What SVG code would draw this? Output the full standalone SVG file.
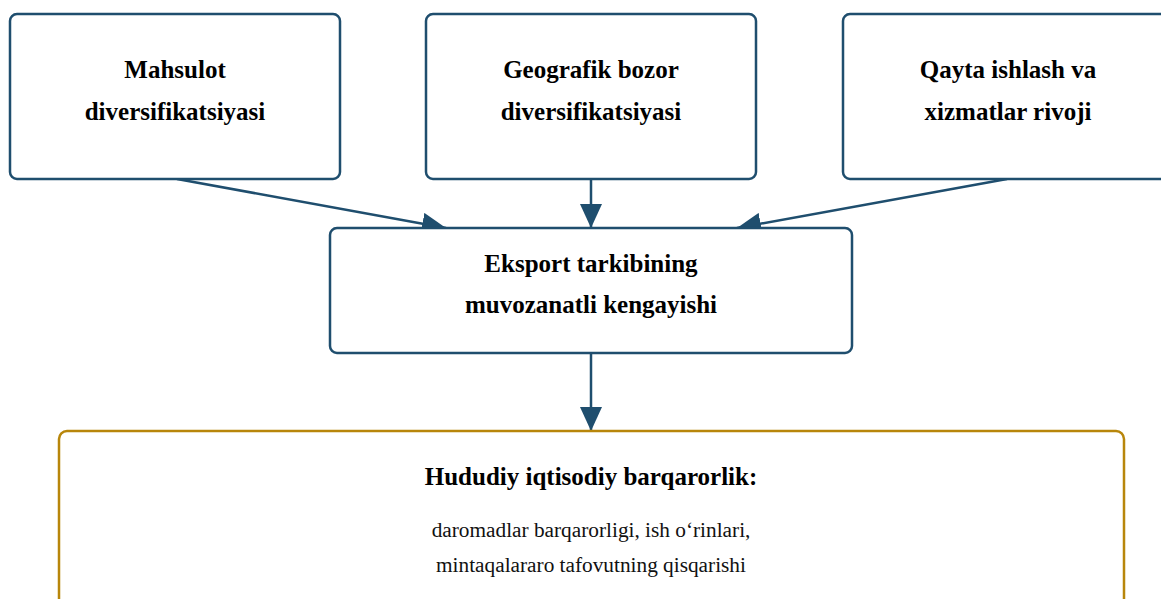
<svg xmlns="http://www.w3.org/2000/svg" width="1161" height="599" viewBox="0 0 1161 599">
<style>
.box{fill:#fff;stroke:#1f4e6e;stroke-width:2.5}
.gold{fill:#fff;stroke:#b8860b;stroke-width:2.5}
.t{font-family:"Liberation Serif","Times New Roman",serif;font-weight:bold;font-size:25px;fill:#000;text-anchor:middle}
.n{font-family:"Liberation Serif","Times New Roman",serif;font-size:21.3px;fill:#111;text-anchor:middle}
.c{stroke:#1f4e6e;stroke-width:2.5;fill:none}
</style>
<defs>
<marker id="ah" viewBox="0 0 24 22" refX="24" refY="11" markerWidth="24" markerHeight="22" markerUnits="userSpaceOnUse" orient="auto">
<path d="M0,0 L24,11 L0,22 Z" fill="#1f4e6e"/>
</marker>
</defs>
<rect width="1161" height="599" fill="#fff"/>
<g id="connectors">
<line class="c" x1="177" y1="179" x2="446" y2="228" marker-end="url(#ah)"/>
<line class="c" x1="591" y1="179" x2="591" y2="228" marker-end="url(#ah)"/>
<line class="c" x1="1007" y1="179" x2="737" y2="228" marker-end="url(#ah)"/>
<line class="c" x1="591" y1="353" x2="591" y2="431" marker-end="url(#ah)"/>
</g>
<g id="n1">
<rect class="box" x="10" y="14" width="330" height="165" rx="7"/>
<text class="t" x="175" y="78">Mahsulot</text>
<text class="t" x="175" y="120">diversifikatsiyasi</text>
</g>
<g id="n2">
<rect class="box" x="426" y="14" width="330" height="165" rx="7"/>
<text class="t" x="591" y="78">Geografik bozor</text>
<text class="t" x="591" y="120">diversifikatsiyasi</text>
</g>
<g id="n3">
<rect class="box" x="843" y="14" width="330" height="165" rx="7"/>
<text class="t" x="1008" y="78">Qayta ishlash va</text>
<text class="t" x="1008" y="120">xizmatlar rivoji</text>
</g>
<g id="n4">
<rect class="box" x="330" y="228" width="522" height="125" rx="7"/>
<text class="t" x="591" y="272">Eksport tarkibining</text>
<text class="t" x="591" y="313">muvozanatli kengayishi</text>
</g>
<g id="n5">
<rect class="gold" x="59" y="431" width="1065" height="200" rx="8"/>
<text class="t" x="591" y="485">Hududiy iqtisodiy barqarorlik:</text>
<text class="n" x="591" y="537">daromadlar barqarorligi, ish o‘rinlari,</text>
<text class="n" x="591" y="572">mintaqalararo tafovutning qisqarishi</text>
</g>
</svg>
